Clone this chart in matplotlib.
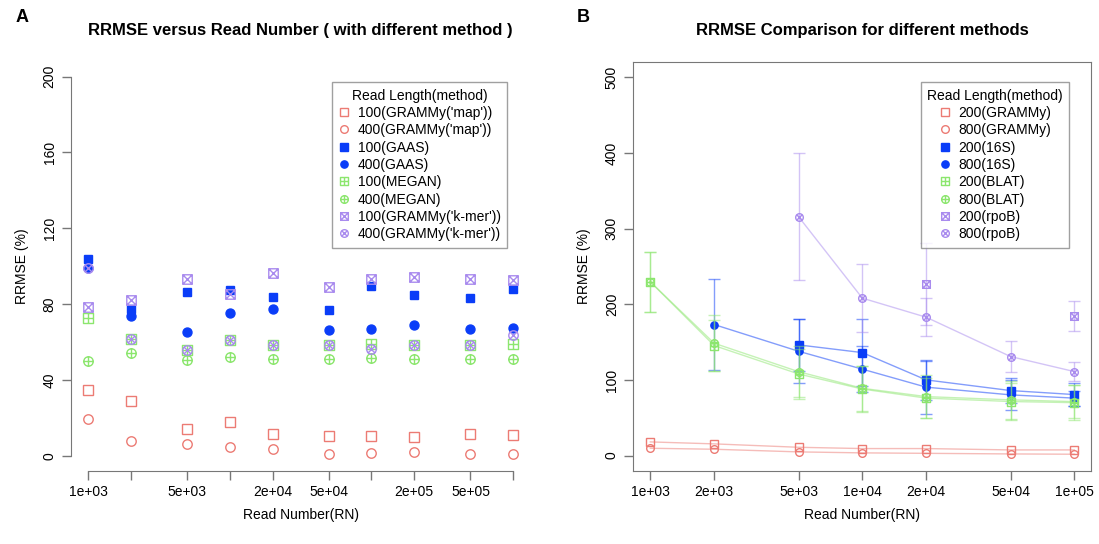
import numpy as np
import matplotlib
matplotlib.use("Agg")
import matplotlib.pyplot as plt
from matplotlib.path import Path
from matplotlib.lines import Line2D

plt.rcParams['font.family'] = ['Liberation Sans', 'DejaVu Sans']

nan = np.nan
# ---------------- Panel A data ----------------
x_left = [1e3, 2e3, 5e3, 1e4, 2e4, 5e4, 1e5, 2e5, 5e5, 1e6]
xtick_labels_left = ['1e+03', '', '5e+03', '', '2e+04', '5e+04', '', '2e+05', '5e+05', '']
yticks_left = [0, 40, 80, 120, 160, 200]
map100 = [34.5, 28.9, 13.9, 18.0, 11.3, 10.6, 10.4, 10.0, 11.3, 10.9]
map400 = [19.2, 7.8, 6.4, 4.6, 3.4, 1.1, 1.6, 1.8, 0.7, 0.9]
gaas100 = [103.8, 77.4, 86.2, 87.3, 83.7, 76.7, 89.4, 84.6, 83.0, 87.8]
gaas400 = [98.9, 73.9, 65.3, 75.3, 77.2, 66.3, 66.7, 69.1, 67.0, 67.2]
megan100 = [72.8, 61.4, 56.0, 61.0, 58.4, 58.2, 58.8, 58.6, 58.2, 58.8]
megan400 = [50.0, 54.4, 50.7, 52.3, 51.0, 51.2, 51.7, 51.0, 51.0, 51.0]
kmer100 = [78.5, 82.0, 93.1, 85.2, 96.4, 89.0, 93.1, 94.3, 93.1, 92.5]
kmer400 = [99.0, 61.4, 56.0, 61.0, 58.4, 58.2, 56.3, 58.6, 58.2, 63.5]
labels_left = ["100(GRAMMy('map'))", "400(GRAMMy('map'))", "100(GAAS)", "400(GAAS)",
               "100(MEGAN)", "400(MEGAN)", "100(GRAMMy('k-mer'))", "400(GRAMMy('k-mer'))"]

# ---------------- Panel B data ----------------
x_right = [1e3, 2e3, 5e3, 1e4, 2e4, 5e4, 1e5]
xtick_labels_right = ['1e+03', '2e+03', '5e+03', '1e+04', '2e+04', '5e+04', '1e+05']
yticks_right = [0, 100, 200, 300, 400, 500]
grammy200 = [18.1, 15.5, 11.0, 9.3, 9.3, 7.5, 7.5]
grammy800 = [9.7, 8.4, 4.9, 3.6, 3.0, 2.2, 1.8]
s16_200 = [nan, nan, 146.4, 136.2, 100.1, 86.0, 80.7]
s16_800 = [nan, 173.3, 138.0, 114.3, 90.5, 80.3, 76.0]
blat200 = [229.8, 145.5, 108.0, 88.0, 76.0, 71.5, 70.0]
blat800 = [229.8, 148.6, 111.0, 89.0, 78.0, 73.7, 71.4]
rpob200 = [nan, nan, nan, nan, 226.7, nan, 184.8]
rpob800 = [nan, nan, 316.0, 208.2, 183.0, 131.0, 111.1]
s16_200_err = [nan, nan, 34, 44, 26, 17, 15]
s16_800_err = [nan, 60, 42, 30, 35, 20, 10]
blat200_err = [40, 34, 33, 31, 26, 25, 23]
blat800_err = [40, 37, 34, 30, 28, 25, 22]
rpob200_err = [nan, nan, nan, nan, 54, nan, 20]
rpob800_err = [nan, nan, 84, 45, 25, 21, 13]
labels_right = ["200(GRAMMy)", "800(GRAMMy)", "200(16S)", "800(16S)",
                "200(BLAT)", "800(BLAT)", "200(rpoB)", "800(rpoB)"]

RED = '#EC7B74'
BLUE = '#0A3DF8'
GREEN = '#8CE66E'
PURPLE = '#A98BEE'
AXC = '#777777'


def compound(shape, inner):
    verts, codes = [], []
    if shape == 'square':
        verts += [(-1, -1), (1, -1), (1, 1), (-1, 1), (-1, -1)]
        codes += [Path.MOVETO, Path.LINETO, Path.LINETO, Path.LINETO, Path.CLOSEPOLY]
        d = 1.0
    else:
        c = Path.unit_circle()
        verts += list(c.vertices)
        codes += list(c.codes)
        d = 0.7071
    if inner == 'plus':
        verts += [(0, -1), (0, 1), (-1, 0), (1, 0)]
    else:
        verts += [(-d, -d), (d, d), (-d, d), (d, -d)]
    codes += [Path.MOVETO, Path.LINETO, Path.MOVETO, Path.LINETO]
    return Path(verts, codes)


SQ_PLUS = compound('square', 'plus')
CI_PLUS = compound('circle', 'plus')
SQ_X = compound('square', 'x')
CI_X = compound('circle', 'x')

# (marker, color, filled)
styles = [('s', RED, False), ('o', RED, False), ('s', BLUE, True), ('o', BLUE, True),
          (SQ_PLUS, GREEN, False), (CI_PLUS, GREEN, False), (SQ_X, PURPLE, False), (CI_X, PURPLE, False)]

fig = plt.figure(figsize=(10.99, 5.44), dpi=100)
axA = fig.add_axes([0.0649, 0.1344, 0.4174, 0.7526])
axB = fig.add_axes([0.5763, 0.1347, 0.4167, 0.7507])


def mk_kw(style, ms):
    m, c, filled = style
    kw = dict(marker=m, color=c, markeredgecolor=c, markersize=ms, markeredgewidth=1.0)
    if filled:
        kw['markerfacecolor'] = c
        kw['markersize'] = ms * 0.95
    else:
        kw['markerfacecolor'] = 'none'
    return kw


# ---------- Panel A ----------
seriesA = [map100, map400, gaas100, gaas400, megan100, megan400, kmer100, kmer400]
for ys, st in zip(seriesA, styles):
    axA.plot(x_left, ys, linestyle='none', **mk_kw(st, 6.8))

axA.set_xscale('log')
axA.set_xlim(10 ** 2.88, 10 ** 6.12)
axA.set_ylim(-8, 208)
for s in ['top', 'right']:
    axA.spines[s].set_visible(False)
axA.spines['left'].set_bounds(0, 200)
axA.spines['bottom'].set_bounds(1e3, 1e6)
axA.set_xticks(x_left)
axA.set_xticklabels(xtick_labels_left)
axA.xaxis.set_minor_locator(matplotlib.ticker.NullLocator())
axA.set_yticks(yticks_left)
axA.set_yticklabels([str(v) for v in yticks_left], rotation=90, va='center')

leg_kw = dict(loc='upper right', borderaxespad=0, fontsize=10, title_fontsize=10,
              frameon=True, fancybox=False, edgecolor='#888888',
              handlelength=0.9, handletextpad=0.55, labelspacing=0.24, borderpad=0.45)

handlesA = [Line2D([], [], linestyle='none', **mk_kw(st, 5.5)) for st in styles]
legA = axA.legend(handlesA, labels_left, title='Read Length(method)',
                  bbox_to_anchor=(0.9505, 0.949), **leg_kw)
legA.get_frame().set_linewidth(1.0)

# ---------- Panel B ----------
seriesB = [grammy200, grammy800, s16_200, s16_800, blat200, blat800, rpob200, rpob800]
errsB = [None, None, s16_200_err, s16_800_err, blat200_err, blat800_err, rpob200_err, rpob800_err]
for ys, er, st in zip(seriesB, errsB, styles):
    c = st[1]
    if er is not None:
        axB.errorbar(x_right, ys, yerr=er, fmt='none', ecolor=c, alpha=0.5,
                     elinewidth=1.0, capsize=4.5, capthick=1.0)
    axB.plot(x_right, ys, color=c, alpha=0.5, linewidth=1.0)
    axB.plot(x_right, ys, linestyle='none', **mk_kw(st, 5.5))

axB.set_xscale('log')
axB.set_xlim(10 ** 2.92, 10 ** 5.08)
axB.set_ylim(-20, 520)
for s in axB.spines.values():
    s.set_color(AXC)
axB.set_xticks(x_right)
axB.set_xticklabels(xtick_labels_right)
axB.xaxis.set_minor_locator(matplotlib.ticker.NullLocator())
axB.set_yticks(yticks_right)
axB.set_yticklabels([str(v) for v in yticks_right], rotation=90, va='center')

handlesB = [Line2D([], [], linestyle='none', **mk_kw(st, 5.5)) for st in styles]
legB = axB.legend(handlesB, labels_right, title='Read Length(method)',
                  bbox_to_anchor=(0.951, 0.951), **leg_kw)
legB.get_frame().set_linewidth(1.0)

for ax in (axA, axB):
    ax.tick_params(axis='both', which='major', direction='out', length=6.5, width=1.0,
                   color=AXC, labelsize=10, labelcolor='black')
    ax.tick_params(axis='x', pad=4)
    ax.tick_params(axis='y', pad=4)
    ax.spines['left'].set_color(AXC)
    ax.spines['bottom'].set_color(AXC)
    ax.set_xlabel('Read Number(RN)', fontsize=10, labelpad=6)
    ax.set_ylabel('RRMSE (%)', fontsize=10, labelpad=10)

fig.text(300 / 1099, 1 - 30 / 544, 'RRMSE versus Read Number ( with different method )',
         ha='center', va='center', fontsize=12, fontweight='bold')
fig.text(862 / 1099, 1 - 30 / 544, 'RRMSE Comparison for different methods',
         ha='center', va='center', fontsize=12, fontweight='bold')
fig.text(22 / 1099, 1 - 18 / 544, 'A', ha='center', va='center', fontsize=13, fontweight='bold')
fig.text(583 / 1099, 1 - 18 / 544, 'B', ha='center', va='center', fontsize=13, fontweight='bold')

fig.savefig('out.png', dpi=100)
